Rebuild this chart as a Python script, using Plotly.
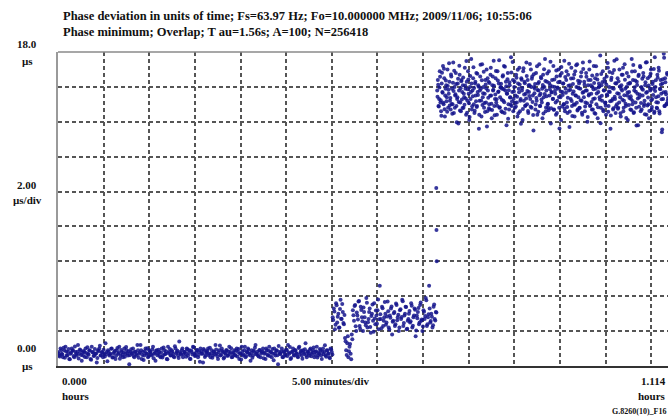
import numpy as np
import plotly.graph_objects as go

# ---------------- data (phase deviation, microseconds) ----------------
# segment time spans in minutes (start, end)
seg1_span = (0.0, 30.0)
seg2_span = (30.1, 41.4)
seg3_span = (41.55, 66.8)

seg1_us = [
    0.8,0.6,1.0,0.7,0.5,0.9,1.1,0.6,0.8,0.4,0.7,1.0,0.9,0.5,0.8,0.6,1.2,0.7,0.9,0.3,
    0.6,0.8,1.0,0.5,0.7,0.9,0.4,1.1,0.8,0.6,0.7,0.2,0.9,1.0,0.6,0.8,0.5,0.7,1.3,0.8,
    0.9,0.6,0.7,1.0,0.5,0.8,0.4,0.9,0.7,1.1,0.6,0.8,0.5,1.0,0.7,0.9,0.6,0.1,0.8,0.7,
    1.0,0.5,0.8,0.6,0.9,0.7,1.2,0.4,0.8,0.6,1.0,0.7,0.5,0.9,0.8,0.6,1.1,0.7,0.3,0.9,
    0.7,0.8,0.5,1.0,0.6,0.9,0.7,0.4,1.1,0.8,0.6,0.9,0.7,0.5,1.0,0.8,0.6,1.4,0.7,0.9,
    0.5,0.8,0.7,1.0,0.6,0.9,0.4,0.8,1.1,0.7,0.6,0.9,0.5,0.8,1.0,0.7,0.2,0.9,0.6,0.8,
    1.0,0.7,0.5,0.9,0.6,0.8,1.2,0.7,0.4,0.9,0.6,1.0,0.8,0.5,0.7,0.9,0.6,1.1,0.8,0.5,
    0.7,0.9,0.6,1.0,0.8,0.4,0.7,1.1,0.6,0.9,0.5,0.8,1.0,0.7,0.3,0.9,0.6,0.8,1.2,0.7,
    0.6,0.9,0.5,0.8,1.0,0.7,0.4,0.9,0.6,1.1,0.8,0.5,0.7,1.0,0.6,0.9,0.1,0.8,0.7,1.0,
    0.5,0.8,0.6,0.9,1.2,0.7,0.4,0.8,1.0,0.6,0.9,0.7,0.5,1.1,0.8,0.6,0.9,0.7,1.3,0.5,
    0.8,0.6,1.0,0.7,0.9,0.5,0.8,1.1,0.6,0.7,0.9,0.4,1.0,0.8,0.6,0.9,0.7,0.5,1.0,0.8,
]
seg1b_us = [
    0.72,0.54,0.91,0.66,1.04,0.47,0.83,0.61,0.97,0.38,0.76,0.88,0.58,1.12,0.69,0.81,0.43,0.94,0.63,0.78,
    0.86,0.52,0.74,1.07,0.64,0.89,0.36,0.79,0.57,0.98,0.71,0.46,0.84,1.16,0.62,0.77,0.93,0.55,0.68,0.27,
    0.81,0.66,0.99,0.49,0.73,0.87,0.59,1.03,0.76,0.42,0.92,0.64,0.79,0.53,1.09,0.71,0.85,0.61,0.96,0.74,
    0.57,0.83,0.69,1.21,0.48,0.78,0.91,0.63,0.34,0.86,0.72,1.02,0.56,0.81,0.67,0.95,0.44,0.76,0.88,0.61,
    0.93,0.58,0.77,0.49,1.06,0.68,0.84,0.39,0.73,0.97,0.62,0.81,0.54,1.13,0.71,0.87,0.46,0.79,0.64,1.01,
    0.69,0.82,0.53,0.96,0.74,0.41,0.89,0.66,1.08,0.57,0.78,0.92,0.63,0.24,0.85,0.71,0.98,0.52,0.76,0.88,
    0.61,1.04,0.72,0.47,0.83,0.67,0.94,0.56,0.79,1.17,0.64,0.86,0.43,0.75,0.91,0.59,0.82,0.69,1.02,0.51,
    0.77,0.63,0.89,0.54,0.98,0.72,0.37,0.84,0.66,1.11,0.58,0.79,0.93,0.62,0.74,0.48,0.87,1.05,0.68,0.81,
    0.55,0.92,0.71,0.83,0.44,0.76,1.01,0.64,0.88,0.57,0.79,0.97,0.33,0.73,0.86,0.61,1.14,0.69,0.82,0.52,
    0.84,0.67,0.95,0.58,0.78,1.09,0.46,0.81,0.63,0.91,0.74,0.54,1.03,0.69,0.87,0.41,0.77,0.96,0.62,0.83,
    0.71,0.93,0.56,0.79,1.06,0.64,0.85,0.49,0.76,0.98,0.61,0.82,0.68,1.19,0.53,0.89,0.72,0.45,0.94,0.66,
]

seg2_us = [
    2.8,3.3,2.1,3.6,2.5,3.0,2.2,3.8,2.7,3.1,2.4,
    1.6,0.9,1.3,0.5,1.1,0.7,1.8,
    3.2,2.6,3.5,2.0,2.9,3.7,2.3,3.4,2.8,2.0,
    3.1,2.5,3.9,2.2,2.7,3.3,1.9,3.0,2.6,3.6,
    2.4,2.9,3.2,2.1,4.6,2.7,3.4,2.3,2.8,3.0,
    2.5,3.7,2.2,2.9,3.3,1.8,2.6,3.1,2.4,3.5,
    2.8,2.0,3.2,2.7,3.8,2.3,2.9,3.4,2.1,2.6,
    3.0,2.5,3.6,2.2,2.8,3.3,1.7,2.9,3.1,2.4,
    3.5,2.6,2.0,3.2,2.7,3.9,2.3,2.8,4.6,2.5,
    3.0,2.2,3.4,2.7,3.1,
]
seg2b_us = [
    2.64,3.12,2.37,3.48,2.83,2.19,3.27,2.71,3.56,2.46,2.93,
    1.42,0.63,1.71,0.84,1.26,0.38,1.54,
    2.91,3.44,2.28,3.07,2.66,3.73,2.14,3.21,2.57,3.36,
    2.79,2.33,3.62,2.51,3.09,2.24,2.87,3.52,1.96,2.73,
    3.18,2.42,3.81,2.68,2.96,2.17,3.31,2.59,3.67,2.36,
    2.84,3.14,2.09,2.77,3.41,2.53,3.03,2.29,3.58,2.62,
    2.94,2.21,3.26,2.81,3.71,2.47,2.99,3.38,2.13,2.69,
    3.16,2.56,3.46,2.31,2.89,3.22,2.04,2.74,3.33,2.49,
    3.64,2.67,2.27,3.11,2.86,3.77,2.39,2.97,3.29,2.58,
    2.82,2.34,3.53,2.61,3.06,
]

trans_min = [41.45, 41.47, 41.5]
trans_us = [10.2, 7.8, 6.0]

seg3_us = [
    15.8,16.4,14.9,15.3,16.9,15.1,14.6,16.2,15.7,17.2,15.0,16.5,14.3,15.9,16.1,15.4,17.0,14.8,15.6,16.3,
    15.2,14.7,16.6,15.9,15.0,17.4,14.5,16.0,15.5,16.8,14.9,15.3,16.2,13.9,15.8,16.7,15.1,14.6,16.4,15.7,
    16.1,14.8,15.4,17.1,15.9,14.4,16.3,15.2,16.9,15.6,14.1,16.0,15.3,17.6,14.7,15.8,16.5,15.0,14.5,16.2,
    15.5,16.8,14.9,15.7,16.1,13.6,15.2,16.6,15.9,14.3,17.3,15.4,16.0,14.8,15.6,16.4,15.1,17.0,14.6,15.8,
    16.3,15.0,14.7,16.7,15.5,14.2,16.1,15.8,17.5,14.9,15.3,16.5,15.1,14.4,16.9,15.7,16.2,14.8,15.4,16.0,
    14.6,15.9,16.6,15.2,17.2,14.5,15.8,16.3,13.8,15.6,16.8,15.0,14.7,16.1,15.4,17.7,14.9,15.7,16.4,15.3,
    16.0,14.8,15.5,16.7,15.1,14.3,16.2,15.9,17.1,14.6,15.3,16.5,15.8,14.1,16.9,15.2,16.3,14.9,15.6,17.4,
    15.0,16.4,14.5,15.7,16.1,15.3,17.0,14.8,16.6,15.5,13.5,16.0,15.9,14.7,16.8,15.2,14.4,16.2,15.8,17.3,
    14.9,15.6,16.5,15.1,14.2,16.7,15.4,16.0,17.6,14.6,15.8,16.3,15.0,14.8,16.9,15.5,16.1,13.9,15.7,16.4,
    15.3,17.2,14.7,16.0,15.6,14.4,16.6,15.2,15.9,17.0,14.8,16.3,15.4,14.1,16.8,15.7,16.2,15.0,17.5,14.6,
    15.9,16.4,15.1,14.5,16.7,15.8,13.7,16.1,15.3,17.1,14.9,15.6,16.5,15.0,14.3,16.9,15.5,16.0,17.3,14.7,
    15.4,16.2,14.8,15.9,16.6,15.2,14.4,17.4,15.7,16.3,14.6,15.1,16.8,15.8,14.0,16.1,15.5,17.0,14.9,16.4,
    15.6,14.7,16.0,15.3,17.2,14.5,16.5,15.9,15.0,16.7,14.2,15.7,16.2,15.4,17.8,14.8,16.1,15.2,16.9,14.6,
    15.8,16.3,15.1,14.4,16.6,15.5,17.1,14.9,16.0,15.7,13.6,16.4,15.2,16.8,14.7,15.9,17.5,15.3,14.5,16.2,
    15.0,16.5,14.8,15.6,17.0,15.4,14.3,16.1,15.8,16.7,14.6,15.2,17.3,15.9,14.9,16.0,15.5,14.1,16.6,15.7,
    16.2,14.7,15.3,17.6,15.0,16.4,14.5,15.8,16.9,15.1,14.8,16.3,15.6,13.8,16.7,15.4,17.2,14.6,16.0,15.9,
    15.5,16.8,14.9,15.2,16.1,17.4,14.4,15.7,16.5,15.0,14.2,16.6,15.8,17.0,14.7,15.3,16.3,15.9,14.5,17.7,
    16.0,15.4,14.8,16.7,15.1,17.1,14.6,15.9,16.4,15.6,13.4,16.2,15.3,17.9,14.9,16.5,15.7,15.0,16.8,15.2,
]
seg3b_us = [
    15.43,16.12,14.87,15.96,16.58,15.24,14.35,16.81,15.67,15.09,17.04,14.72,15.51,16.37,15.18,14.58,16.05,15.83,17.36,14.93,
    15.36,16.71,15.02,14.46,16.24,15.77,16.93,14.81,15.58,16.16,13.97,15.41,16.47,15.13,17.21,14.65,15.92,16.33,15.27,14.79,
    16.54,15.61,14.98,16.08,15.34,17.48,14.52,15.86,16.42,15.06,14.27,16.63,15.71,16.19,14.89,15.47,17.12,15.93,14.63,16.29,
    15.17,14.84,16.76,15.53,16.01,14.41,15.79,17.27,15.22,16.38,14.96,15.64,16.87,15.08,14.56,16.14,15.91,13.73,16.49,15.38,
    14.77,16.22,15.49,17.09,15.03,14.68,16.59,15.84,16.07,14.37,15.56,16.91,15.29,14.92,16.36,15.73,17.53,14.83,15.97,16.18,
    15.26,14.54,16.67,15.88,15.12,17.16,14.74,16.03,15.62,16.44,14.18,15.81,16.26,15.39,14.97,16.83,15.16,17.42,14.61,15.74,
    16.31,15.07,14.88,16.52,15.44,16.98,14.49,15.69,16.13,15.21,13.88,16.41,15.94,14.73,17.07,15.57,16.21,14.94,15.33,16.62,
    15.76,14.62,16.09,15.48,17.31,14.86,15.99,16.46,15.14,14.39,16.72,15.63,16.17,14.99,15.37,17.19,15.82,14.57,16.28,15.52,
    14.91,16.56,15.28,15.89,16.11,14.47,17.01,15.59,16.34,14.82,15.46,16.77,15.04,14.66,16.23,15.87,17.44,14.78,15.68,16.02,
    15.32,14.69,16.43,15.78,15.11,16.94,14.51,15.96,16.27,15.42,13.62,16.64,15.73,17.14,14.88,15.54,16.19,15.01,14.76,16.57,
    15.66,16.89,14.84,15.38,16.06,17.33,14.59,15.83,16.48,15.19,14.33,16.16,15.74,16.71,14.97,15.51,17.24,15.09,14.64,16.35,
    15.92,14.79,16.31,15.24,16.84,14.52,15.67,17.03,15.41,16.12,14.87,15.79,16.58,15.06,14.28,16.39,15.58,17.46,14.94,16.09,
    15.13,16.66,14.71,15.87,16.22,15.34,14.46,17.18,15.62,16.43,14.83,15.97,16.04,15.27,13.91,16.74,15.49,16.28,14.69,15.81,
    16.47,15.08,14.92,16.13,15.56,17.37,14.58,15.73,16.86,15.18,14.36,16.52,15.94,15.31,14.77,16.97,15.44,16.21,14.89,17.58,
    15.63,14.74,16.33,15.11,16.02,14.49,15.89,16.69,15.26,17.09,14.81,15.52,16.41,15.03,14.22,16.79,15.68,16.18,14.96,15.37,
    16.24,15.46,14.67,16.88,15.19,17.26,14.54,15.98,16.37,15.72,13.79,16.11,15.33,16.63,14.86,15.57,17.13,15.07,14.71,16.46,
    15.84,16.59,15.02,14.43,16.27,15.66,17.41,14.93,15.39,16.08,14.62,15.91,16.76,15.23,14.84,16.17,15.54,17.02,14.57,15.76,
    16.38,15.12,14.78,16.53,15.47,16.92,14.48,15.86,16.14,15.29,13.56,16.44,15.69,17.67,14.91,16.26,15.58,15.04,16.71,15.36,
]

x_range_min = [0.0, 66.84]   # 1.114 hours
y_range_us = [0.0, 18.0]


# sample times for each segment (second list sits half a sample later)
def times(span, vals, half=False):
    t = np.linspace(span[0], span[1], len(vals))
    if half:
        t = t + (span[1] - span[0]) / (len(vals) - 1) / 2
    return t


t_all = np.concatenate([
    times(seg1_span, seg1_us), times(seg1_span, seg1b_us, True),
    times(seg2_span, seg2_us), times(seg2_span, seg2b_us, True),
    np.array(trans_min),
    times(seg3_span, seg3_us), times(seg3_span, seg3b_us, True),
])
y_all = np.concatenate([seg1_us, seg1b_us, seg2_us, seg2b_us, trans_us, seg3_us, seg3b_us])

# ---------------- figure ----------------
W, H = 668, 419
L, R, T, B = 58, 0, 52, 53
pw, ph = W - L - R, H - T - B


def px(x):
    return (x - L) / pw


def py(y):
    return (H - B - y) / ph


fig = go.Figure()
fig.add_trace(go.Scatter(
    x=t_all, y=y_all, mode="markers",
    marker=dict(color="#14148c", size=4, opacity=0.85, line=dict(width=0)),
    hoverinfo="skip", showlegend=False, cliponaxis=True,
))

grid = dict(showgrid=True, gridcolor="#555555", gridwidth=1.5, griddash="4px,3px",
            zeroline=False, showticklabels=False, ticks="", fixedrange=True)

fig.update_xaxes(range=x_range_min, dtick=5, tick0=0, showline=True,
                 linecolor="#333333", linewidth=2, mirror=False, **grid)
fig.update_yaxes(range=y_range_us, dtick=2, tick0=0, showline=True,
                 linecolor="#9a9a9a", linewidth=1.5, mirror=False, **grid)

fig.add_shape(type="line", xref="paper", yref="paper", x0=0, x1=1, y0=1, y1=1,
              line=dict(color="#8a8a8a", width=1.5))

SER = "Liberation Serif, Times New Roman, serif"
ann = []


def text(s, x, y, anchor="left", size=11):
    ann.append(dict(text=s, x=px(x), y=py(y), xref="paper", yref="paper",
                    xanchor=anchor, yanchor="middle", showarrow=False,
                    font=dict(family=SER, size=size, color="#111111")))


text("<b>Phase deviation in units of time; Fs=63.97 Hz; Fo=10.000000 MHz; 2009/11/06; 10:55:06</b>", 61, 16, size=12.5)
text("<b>Phase minimum; Overlap; T au=1.56s; A=100; N=256418</b>", 61, 32, size=12.5)
text("<b>18.0</b>", 27, 44, "center")
text("<b>µs</b>", 27, 61, "center")
text("<b>2.00</b>", 27, 185, "center")
text("<b>µs/div</b>", 27, 200, "center")
text("<b>0.00</b>", 27, 348, "center")
text("<b>µs</b>", 27, 366, "center")
text("<b>0.000</b>", 60, 381)
text("<b>hours</b>", 60, 396)
text("<b>5.00 minutes/div</b>", 290, 381)
text("<b>1.114</b>", 668, 381, "right")
text("<b>hours</b>", 668, 396, "right")
text("<b>G.8260(10)_F16</b>", 668, 411, "right", size=8)

fig.update_layout(
    width=W, height=H,
    margin=dict(l=L, r=R, t=T, b=B),
    paper_bgcolor="white", plot_bgcolor="white",
    annotations=ann,
)

fig.write_html("out.html", config={"displayModeBar": False})
